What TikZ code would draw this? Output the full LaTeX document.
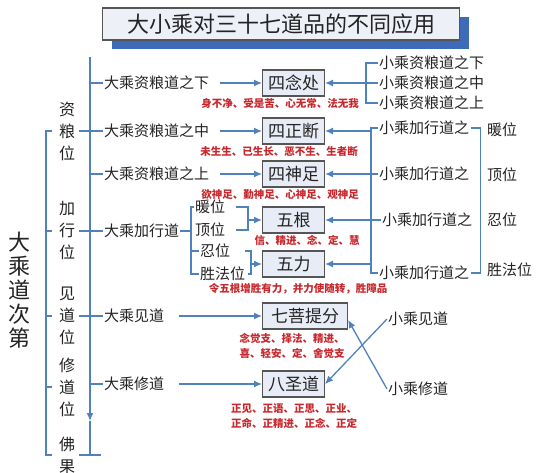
\documentclass[tikz,border=0pt]{standalone}
\usepackage{fontspec}
\newfontfamily\cjk{Noto Sans CJK SC}
\usepackage{tikz}
\usetikzlibrary{arrows.meta,positioning,shadows}
\definecolor{linkblue}{RGB}{79,129,189}
\definecolor{shadowblue}{RGB}{62,106,184}
\definecolor{boxgray}{RGB}{85,85,85}
\definecolor{boxfill}{RGB}{232,236,246}
\definecolor{titlefill}{RGB}{238,240,248}
\definecolor{textgray}{RGB}{35,35,35}
\definecolor{notered}{RGB}{200,40,45}

\begin{document}
\begin{tikzpicture}[
    x=1pt, y=-1pt,
    >={Latex[length=8pt,width=7pt]},
    font=\cjk,
    titlebox/.style={
		rectangle,
		draw=boxgray,
		fill=titlefill,
		line width=1.2pt,
		minimum width=357pt,
		minimum height=32pt,
		text=textgray,
		font=\cjk\fontsize{22}{22}\selectfont,
		drop shadow={shadow xshift=9pt, shadow yshift=-9pt, fill=shadowblue, opacity=1}
	},
	practice/.style={
		rectangle,
		draw=boxgray,
		fill=boxfill,
		line width=1.1pt,
		anchor=west,
		text=textgray,
		minimum width=62pt,
		minimum height=26pt,
		inner xsep=5pt,
		font=\cjk\fontsize{17}{17}\selectfont
	},
	entry/.style={
		anchor=west,
		inner sep=1pt,
		text=textgray,
		font=\cjk\fontsize{15}{15}\selectfont
	},
	rank/.style={
		align=center,
		inner sep=1pt,
		text=textgray,
		font=\cjk\fontsize{16}{22}\selectfont
	},
	note/.style={
		align=center,
		inner sep=1pt,
		text=notered,
		font=\cjk\bfseries\fontsize{10.5}{14.5}\selectfont
	},
	link/.style={
		draw=linkblue,
		line width=1.3pt
	}
  ]

\useasboundingbox (0,0) rectangle (538,473);

% // The title
\node [titlebox] (title) at (281,24) {大小乘对三十七道品的不同应用};

% // The stages
\node [rank, font=\cjk\fontsize{22}{24}\selectfont] (road) at (20,290) {大\\乘\\道\\次\\第};
\node [rank] (zlw) at (67,131) {资\\粮\\位};
\node [rank] (jxw) at (67,231) {加\\行\\位};
\node [rank] (jdw) at (67,316) {见\\道\\位};
\node [rank] (xdw) at (67,387) {修\\道\\位};
\node [rank] (fg) at (67,455) {佛\\果};

\coordinate (outer) at (46,0);
\coordinate (outertip) at (52,0);
\coordinate (spinetop) at (90,57);
\coordinate (spinemid) at (90,421);
\coordinate (spinebot) at (90,455);

 \draw [link] (zlw.west -| outertip) -- (zlw.west -| outer) -- (fg.west -| outer) -- (fg.west -| outertip);
 \draw [link] (jxw.west -| outer) -- (jxw.west -| outertip);
 \draw [link] (jdw.west -| outer) -- (jdw.west -| outertip);
 \draw [link] (xdw.west -| outer) -- (xdw.west -| outertip);

% // Mahayana
\node [entry] (dxia) at (103,83) {大乘资粮道之下};
\node [entry] (dzhong) at (103,131) {大乘资粮道之中};
\node [entry] (dshang) at (103,174) {大乘资粮道之上};
\node [entry] (djx) at (103,231) {大乘加行道};
\node [entry] (djd) at (103,316) {大乘见道};
\node [entry] (dxd) at (103,384) {大乘修道};

 \draw [link, ->] (spinetop) -- (spinemid);
 \draw [link] (spinemid) -- (spinebot);
 \draw [link] (dxia.west -| spinebot) -- (dxia.west);
 \draw [link] ([xshift=3pt]zlw.east) -- (dzhong.west);
 \draw [link] (dshang.west -| spinebot) -- (dshang.west);
 \draw [link] ([xshift=3pt]jxw.east) -- (djx.west);
 \draw [link] ([xshift=3pt]jdw.east) -- (djd.west);
 \draw [link] (dxd.west -| spinebot) -- (dxd.west);
 \draw [link] ([xshift=3pt]fg.east) -- ++(22,0);

% // The 37 practices
\node [practice] (snz) at (262,83) {四念处};
\node [practice] (szd) at (262,131) {四正断};
\node [practice] (ssz) at (262,174) {四神足};
\node [practice] (wg) at (262,220) {五根};
\node [practice] (wl) at (262,264) {五力};
\node [practice, minimum width=85pt] (qp) at (262,316) {七菩提分};
\node [practice] (bs) at (262,384) {八圣道};

 \draw [link, ->] ([xshift=10pt]dxia.east) -- (snz.west);
 \draw [link, ->] ([xshift=10pt]dzhong.east) -- (szd.west);
 \draw [link, ->] ([xshift=10pt]dshang.east) -- (ssz.west);
 \draw [link, ->] ([xshift=14pt]djd.east) -- (qp.west);
 \draw [link, ->] ([xshift=14pt]dxd.east) -- (bs.west);

% // Mahayana preparation
\node [entry] (nuan) at (194,207) {暖位};
\node [entry] (ding) at (194,230) {顶位};
\node [entry] (ren) at (199,251) {忍位};
\node [entry] (sfw) at (199,274) {胜法位};

\coordinate (jxbar) at (191,231);
\coordinate (wgjoin) at ([xshift=-14pt]wg.west);
\coordinate (wljoin) at ([xshift=-11pt]wl.west);

 \draw [link] (djx.east) -- (jxbar);
 \draw [link] (nuan.west) -| (jxbar) |- (sfw.west);
 \draw [link] (ren.west) -- (ren.west -| jxbar);
 \draw [link] ([xshift=10pt]nuan.east) -| (wgjoin) |- ([xshift=10pt]ding.east);
 \draw [link, ->] (wgjoin) -- (wg.west);
 \draw [link] ([xshift=14pt]ren.east) -| (wljoin) |- ([xshift=2pt]sfw.east);
 \draw [link, ->] (wljoin) -- (wl.west);

% // Contents
\node [note] (c1) at (280,104) {身不净、受是苦、心无常、法无我};
\node [note] (c2) at (279,152) {未生生、已生长、恶不生、生者断};
\node [note] (c3) at (280,195) {欲神足、勤神足、心神足、观神足};
\node [note] (c4) at (307,240) {信、精进、念、定、慧};
\node [note] (c5) at (298,289) {令五根增胜有力，并力使随转，胜障品};
\node [note] (c6) at (292,346) {念觉支、择法、精进、\\喜、轻安、定、舍觉支};
\node [note] (c7) at (294,416) {正见、正语、正思、正业、\\正命、正精进、正念、正定};

% // Hinayana
\node [entry] (xx1) at (378,63) {小乘资粮道之下};
\node [entry] (xx2) at (378,83) {小乘资粮道之中};
\node [entry] (xx3) at (378,103) {小乘资粮道之上};

 \draw [link] (xx1.west) -- ++(-12,0) |- (xx3.west);
 \draw [link, ->] (xx2.west) -- (snz.east);

\node [entry] (xj1) at (378,128) {小乘加行道之};
\node [entry] (xj2) at (378,174) {小乘加行道之};
\node [entry] (xj3) at (381,220) {小乘加行道之};
\node [entry] (xj4) at (378,273) {小乘加行道之};
\node [entry] (xnuan) at (486,130) {暖位};
\node [entry] (xding) at (486,175) {顶位};
\node [entry] (xren) at (486,220) {忍位};
\node [entry] (xsfw) at (486,270) {胜法位};

\coordinate (xjbar) at (371,0);

 \draw [link] (xj1.west) -| (xjbar |- xj4.west) -- (xj4.west);
 \draw [link, ->] (szd.east -| xjbar) -- (szd.east);
 \draw [link, ->] (xj2.west) -- (ssz.east);
 \draw [link, ->] (xj3.west) -- (wg.east);
 \draw [link, ->] (wl.east -| xjbar) -- (wl.east);
 \draw [link] ([xshift=1pt]xj1.east) -- ++(9,0) |- ([xshift=1pt]xj4.east);

\node [entry] (xjd) at (387,319) {小乘见道};
\node [entry] (xxd) at (387,389) {小乘修道};

 \draw [link, ->] (xjd.west) -- (bs.east);
 \draw [link, ->] (xxd.west) -- ([yshift=-4pt]qp.east);

\end{tikzpicture}
\end{document}
